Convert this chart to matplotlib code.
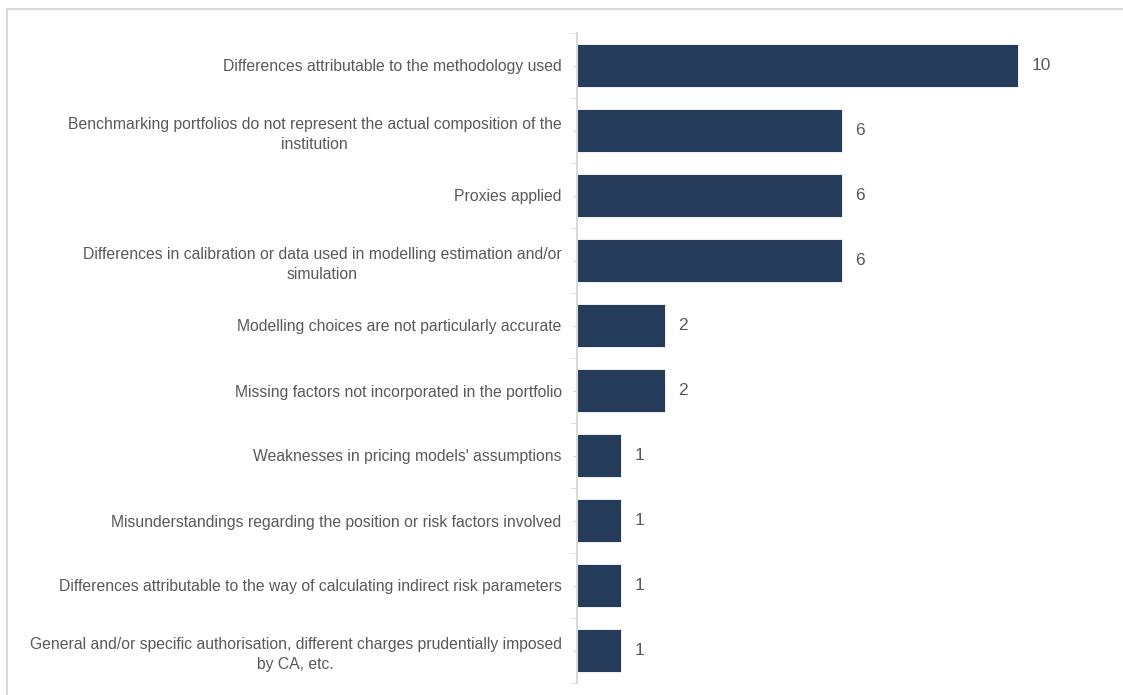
import matplotlib
matplotlib.use('Agg')
import matplotlib.pyplot as plt
from matplotlib.lines import Line2D
from matplotlib import font_manager

# Reasons for deviations, top to bottom
reasons = [
    'Differences attributable to the methodology used',
    'Benchmarking portfolios do not represent the actual composition of the\ninstitution',
    'Proxies applied',
    'Differences in calibration or data used in modelling estimation and/or\nsimulation',
    'Modelling choices are not particularly accurate',
    'Missing factors not incorporated in the portfolio',
    "Weaknesses in pricing models' assumptions",
    'Misunderstandings regarding the position or risk factors involved',
    'Differences attributable to the way of calculating indirect risk parameters',
    'General and/or specific authorisation, different charges prudentially imposed\nby CA, etc.',
]
counts = [10, 6, 6, 6, 2, 2, 1, 1, 1, 1]

names = {f.name for f in font_manager.fontManager.ttflist}
family = 'Liberation Sans Narrow' if 'Liberation Sans Narrow' in names else 'Liberation Sans'
plt.rcParams['font.family'] = [family, 'DejaVu Sans']

bar_color = '#243b5a'
text_color = '#595959'
axis_color = '#d9d9d9'

W, H = 1123, 695
fig = plt.figure(figsize=(W / 100, H / 100), dpi=100)

# light frame around the chart area
fig.add_artist(Line2D([7 / W, 1], [1 - 9 / H, 1 - 9 / H], color=axis_color, lw=1.5))
fig.add_artist(Line2D([7 / W, 7 / W], [0, 1 - 9 / H], color=axis_color, lw=1.5))

left, right = 577 / W, 1100 / W
top, bottom = 1 - 33 / H, 1 - 683 / H
ax = fig.add_axes([left, bottom, right - left, top - bottom])

y = list(range(len(reasons)))
ax.barh(y, counts, height=0.66, color=bar_color, edgecolor='white', linewidth=0.6)
ax.set_xlim(0, 523 / 44.1)
ax.set_ylim(len(reasons) - 0.5, -0.5)

for yi, v in zip(y, counts):
    ax.text(v + 0.3, yi, str(v), va='center', ha='left', fontsize=12.5, color=text_color)

ax.set_yticks(y)
ax.set_yticklabels(reasons, fontsize=11.3, color=text_color)
for lbl in ax.get_yticklabels():
    lbl.set_multialignment('center')
    lbl.set_linespacing(1.45)
ax.set_yticks([i - 0.5 for i in range(len(reasons) + 1)], minor=True)
ax.tick_params(axis='y', which='major', length=3, color=axis_color, pad=8)
ax.tick_params(axis='y', which='minor', length=5, color=axis_color)
ax.set_xticks([])

for side in ['top', 'right', 'bottom']:
    ax.spines[side].set_visible(False)
ax.spines['left'].set_color(axis_color)
ax.spines['left'].set_linewidth(1.5)

plt.savefig('out.png', dpi=100)
plt.close()
